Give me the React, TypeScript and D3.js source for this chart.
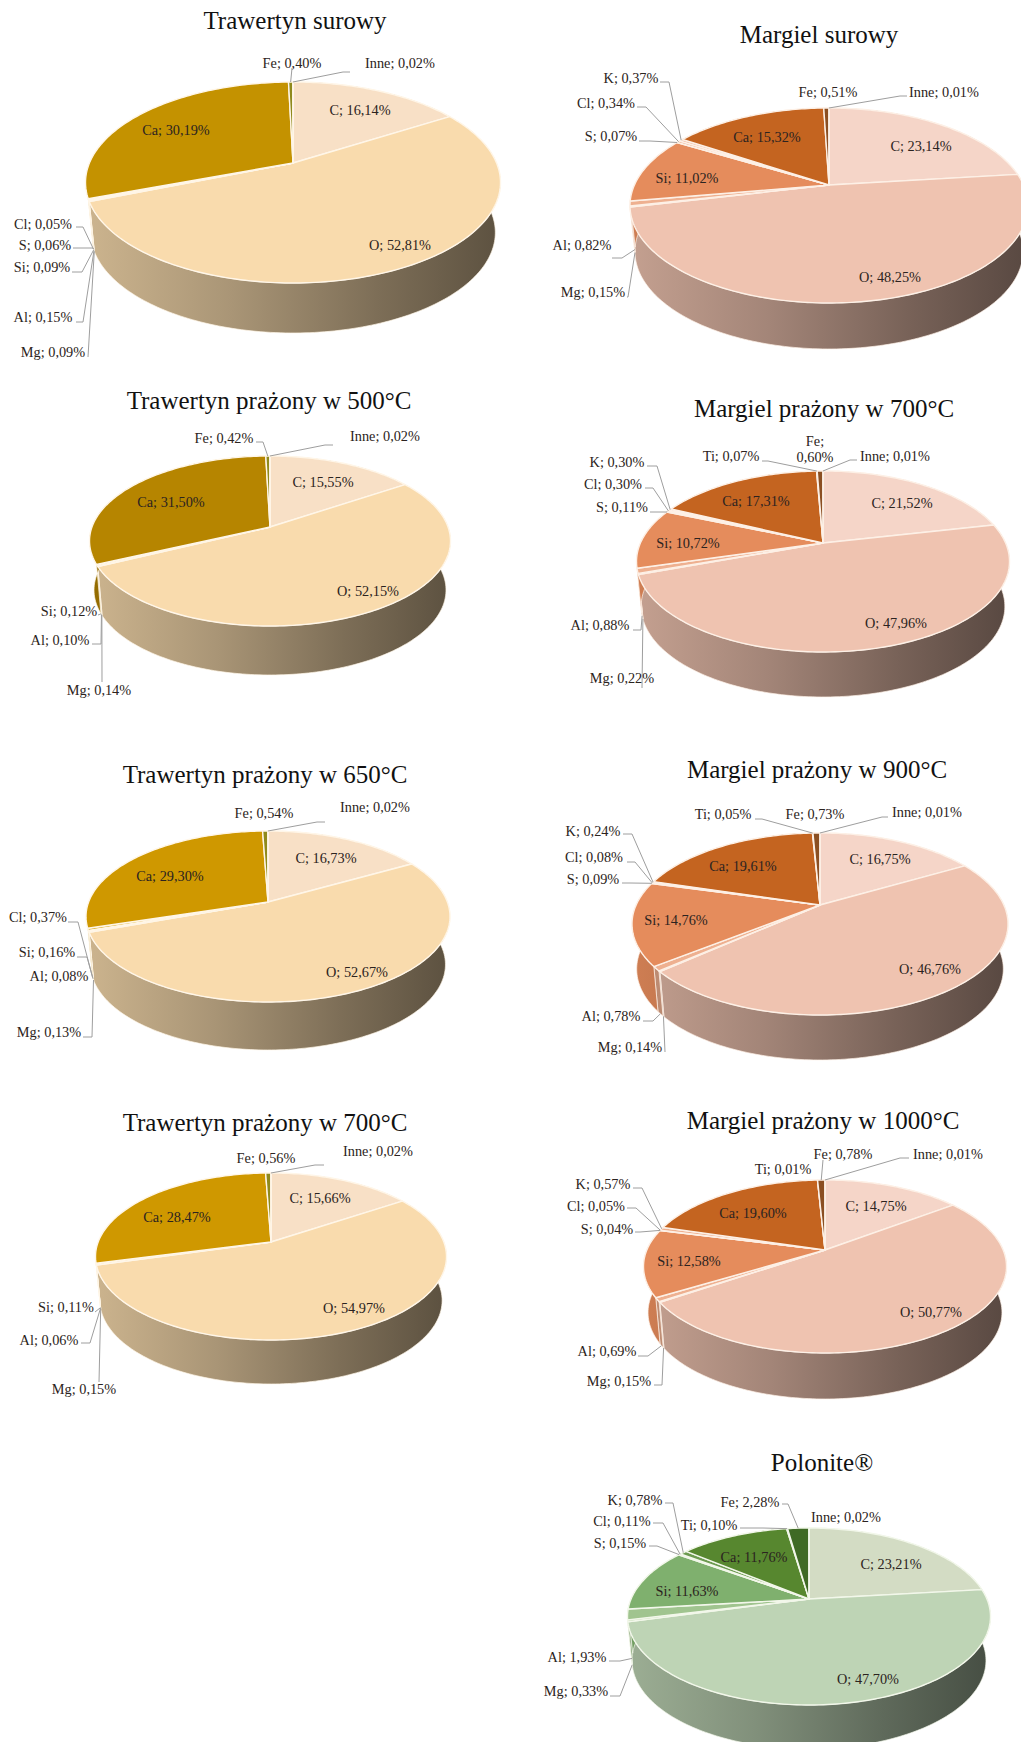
import React from "react";
import * as d3 from "d3";

// Element order around each pie, clockwise from twelve o'clock.
const elementsTrawertyn = ["C", "O", "Mg", "Al", "Si", "S", "Cl", "Ca", "Fe", "Inne"];
const elementsTrawertynShort = ["C", "O", "Mg", "Al", "Si", "Ca", "Fe", "Inne"];
const elementsTrawertyn650 = ["C", "O", "Mg", "Al", "Si", "Cl", "Ca", "Fe", "Inne"];
const elementsMargielNoTi = ["C", "O", "Mg", "Al", "Si", "S", "Cl", "K", "Ca", "Fe", "Inne"];
const elementsFull = ["C", "O", "Mg", "Al", "Si", "S", "Cl", "K", "Ca", "Ti", "Fe", "Inne"];

// Mass shares in percent.
const valuesTrawertynSurowy = [16.14, 52.81, 0.09, 0.15, 0.09, 0.06, 0.05, 30.19, 0.4, 0.02];
const valuesTrawertyn500 = [15.55, 52.15, 0.14, 0.1, 0.12, 31.5, 0.42, 0.02];
const valuesTrawertyn650 = [16.73, 52.67, 0.13, 0.08, 0.16, 0.37, 29.3, 0.54, 0.02];
const valuesTrawertyn700 = [15.66, 54.97, 0.15, 0.06, 0.11, 28.47, 0.56, 0.02];
const valuesMargielSurowy = [23.14, 48.25, 0.15, 0.82, 11.02, 0.07, 0.34, 0.37, 15.32, 0.51, 0.01];
const valuesMargiel700 = [21.52, 47.96, 0.22, 0.88, 10.72, 0.11, 0.3, 0.3, 17.31, 0.07, 0.6, 0.01];
const valuesMargiel900 = [16.75, 46.76, 0.14, 0.78, 14.76, 0.09, 0.08, 0.24, 19.61, 0.05, 0.73, 0.01];
const valuesMargiel1000 = [14.75, 50.77, 0.15, 0.69, 12.58, 0.04, 0.05, 0.57, 19.6, 0.01, 0.78, 0.01];
const valuesPolonite = [23.21, 47.7, 0.33, 1.93, 11.63, 0.15, 0.11, 0.78, 11.76, 0.1, 2.28, 0.02];

// Slice colours by material family.
const paletteTrawertyn: Record<string, string> = {
  C: "#f8e0c6", O: "#f9dbad", Mg: "#e9cf90", Al: "#e6c060", Si: "#b08c10", S: "#d8ab20", Cl: "#d8ab20", Ca: "#c49200", Fe: "#8f8a1c", Inne: "#c49200",
};
const paletteMargiel: Record<string, string> = {
  C: "#f5d5c8", O: "#efc3b0", Mg: "#f2c8b0", Al: "#eeb090", Si: "#e58c5c", S: "#e8a078", Cl: "#eaa880", K: "#eeb090", Ca: "#c46420", Ti: "#d07a40", Fe: "#8b4f22", Inne: "#6b3a18",
};
const palettePolonite: Record<string, string> = {
  C: "#d3dcc4", O: "#bed4b5", Mg: "#c0d6b0", Al: "#a0c48f", Si: "#7fb06e", S: "#9cc088", Cl: "#8db878", K: "#6c9a50", Ca: "#57872f", Ti: "#8db878", Fe: "#3f6a25", Inne: "#2f5018",
};

type Frame = { xL: number; xR: number; ax: number; ay: number; top: number; bottom: number; depth: number };
// Label: centre x, centre y, then optional leader start and elbow.
type Lab = number[];

type Chart = {
  title: string; tx: number; ty: number;
  elements: string[]; values: number[];
  palette: Record<string, string>; ca?: string; gap: string;
  frame: Frame; labels: Lab[]; wrap?: string[]; noWall?: string[];
};

const charts: Chart[] = [
  {
    title: "Trawertyn surowy", tx: 295, ty: 29, elements: elementsTrawertyn, values: valuesTrawertynSurowy,
    palette: paletteTrawertyn, gap: "#fff6e8", noWall: ["Ca"],
    frame: { xL: 87, xR: 502, ax: 293, ay: 163, top: 82, bottom: 283, depth: 50 },
    labels: [[360, 110], [400, 245], [53, 352, 88, 357], [43, 317, 76, 322, 83, 322], [42, 267, 72, 272, 82, 272], [45, 245, 73, 248, 93, 248], [43, 224, 76, 227, 83, 227], [176, 130], [292, 63, 292, 68], [400, 63, 350, 72, 343, 72]],
  },
  {
    title: "Margiel surowy", tx: 819, ty: 43, elements: elementsMargielNoTi, values: valuesMargielSurowy,
    palette: paletteMargiel, gap: "#fdf0e6",
    frame: { xL: 630, xR: 1028, ax: 829, ay: 185, top: 108, bottom: 303, depth: 46 },
    labels: [[921, 146], [890, 277], [593, 292, 627, 297, 628, 297], [582, 245, 612, 258, 622, 258], [687, 178], [611, 136, 639, 141, 650, 141], [606, 103, 637, 107, 646, 107], [631, 78, 660, 82, 669, 82], [767, 137], [828, 92], [944, 92, 907, 96, 900, 96]],
  },
  {
    title: "Trawertyn prażony w 500°C", tx: 269, ty: 409, elements: elementsTrawertynShort, values: valuesTrawertyn500,
    palette: paletteTrawertyn, ca: "#b68500", gap: "#fff6e8",
    frame: { xL: 91, xR: 452, ax: 270, ay: 527, top: 456, bottom: 626, depth: 49 },
    labels: [[323, 482], [368, 591], [99, 690, 102, 682], [60, 640, 92, 644, 101, 644], [69, 611, 98, 615], [171, 502], [224, 438, 256, 442, 263, 442], [385, 436, 333, 445, 325, 445]],
  },
  {
    title: "Margiel prażony w 700°C", tx: 824, ty: 417, elements: elementsFull, values: valuesMargiel700,
    palette: paletteMargiel, gap: "#fdf0e6", wrap: ["Fe"],
    frame: { xL: 637, xR: 1010, ax: 823, ay: 543, top: 471, bottom: 652, depth: 45 },
    labels: [[902, 503], [896, 623], [622, 678, 642, 688], [600, 625, 633, 630, 641, 630], [688, 543], [622, 507, 650, 512, 667, 512], [613, 484, 645, 488, 653, 488], [617, 462, 647, 466, 657, 466], [756, 501], [731, 456, 762, 461, 768, 461], [815, 449], [895, 456, 857, 460, 850, 460]],
  },
  {
    title: "Trawertyn prażony w 650°C", tx: 265, ty: 783, elements: elementsTrawertyn650, values: valuesTrawertyn650,
    palette: paletteTrawertyn, ca: "#cf9800", gap: "#fff6e8", noWall: ["Ca"],
    frame: { xL: 86, xR: 450, ax: 268, ay: 902, top: 831, bottom: 1002, depth: 48 },
    labels: [[326, 858], [357, 972], [49, 1032, 83, 1037, 92, 1037], [59, 976], [47, 952, 77, 957, 87, 957], [38, 917, 68, 922, 78, 922], [170, 876], [264, 813], [375, 807, 325, 822, 317, 822]],
  },
  {
    title: "Margiel prażony w 900°C", tx: 817, ty: 778, elements: elementsFull, values: valuesMargiel900,
    palette: paletteMargiel, gap: "#fdf0e6",
    frame: { xL: 632, xR: 1008, ax: 820, ay: 905, top: 833, bottom: 1015, depth: 45 },
    labels: [[880, 859], [930, 969], [630, 1047, 665, 1052], [611, 1016, 643, 1021, 653, 1021], [676, 920], [593, 879, 622, 883, 630, 883], [594, 857, 627, 862, 635, 862], [593, 831, 623, 834, 632, 834], [743, 866], [723, 814, 755, 819, 762, 819], [815, 814], [927, 812, 888, 817, 882, 817]],
  },
  {
    title: "Trawertyn prażony w 700°C", tx: 265, ty: 1131, elements: elementsTrawertynShort, values: valuesTrawertyn700,
    palette: paletteTrawertyn, ca: "#cf9800", gap: "#fff6e8", noWall: ["Ca"],
    frame: { xL: 94, xR: 445, ax: 271, ay: 1242, top: 1173, bottom: 1340, depth: 44 },
    labels: [[320, 1198], [354, 1308], [84, 1389, 99, 1382], [49, 1340, 81, 1343, 90, 1343], [66, 1307, 95, 1312], [177, 1217], [266, 1158], [378, 1151, 324, 1165, 315, 1165]],
  },
  {
    title: "Margiel prażony w 1000°C", tx: 823, ty: 1129, elements: elementsFull, values: valuesMargiel1000,
    palette: paletteMargiel, gap: "#fdf0e6",
    frame: { xL: 644, xR: 1007, ax: 825, ay: 1250, top: 1180, bottom: 1353, depth: 46 },
    labels: [[876, 1206], [931, 1312], [619, 1381, 654, 1385, 662, 1385], [607, 1351, 638, 1356, 648, 1356], [689, 1261], [607, 1229, 635, 1232, 640, 1232], [596, 1206, 627, 1208, 636, 1208], [603, 1184, 633, 1188, 642, 1188], [753, 1213], [783, 1169], [843, 1154, 823, 1160], [948, 1154, 909, 1158, 900, 1158]],
  },
  {
    title: "Polonite®", tx: 822, ty: 1471, elements: elementsFull, values: valuesPolonite,
    palette: palettePolonite, gap: "#f2f7ea",
    frame: { xL: 628, xR: 991, ax: 809, ay: 1599, top: 1528, bottom: 1705, depth: 44 },
    labels: [[891, 1564], [868, 1679], [576, 1691, 610, 1696, 620, 1696], [577, 1657, 609, 1661, 620, 1661], [687, 1591], [620, 1543, 649, 1546, 657, 1546], [622, 1521, 653, 1523, 663, 1523], [635, 1500, 665, 1503, 673, 1503], [754, 1557], [709, 1525, 740, 1528, 763, 1528], [750, 1502, 782, 1504, 788, 1504], [846, 1517]],
  },
];

const pl = d3.formatLocale({ decimal: ",", thousands: " ", grouping: [3], currency: ["", ""] });
const fmt = pl.format(".2f");
const lineGen = d3.line<[number, number]>();
const FONT = "'Liberation Serif', 'Times New Roman', serif";
const wallShade: [number, number][] = [[0, 0.82], [0.35, 0.68], [0.7, 0.5], [1, 0.37]];
const BOTTOM_SHRINK = 0.975;

// Perspective projection of a disc lying on a tilted plane: angle is measured
// clockwise from the far side of the disc; the near side bulges toward the viewer.
function projector(f: Frame) {
  const a = f.ay - f.top;
  const b = f.bottom - f.ay;
  const p = (b - a) / (b + a);
  const S = b * (1 - p);
  const R = ((f.xR - f.xL) / 2) * Math.sqrt(1 - p * p);
  const top = (t: number): [number, number] => {
    const w = 1 + p * Math.cos(t);
    return [f.ax + (R * Math.sin(t)) / w, f.ay - (S * Math.cos(t)) / w];
  };
  const low = (t: number): [number, number] => {
    const [x, y] = top(t);
    return [f.ax + (x - f.ax) * BOTTOM_SHRINK, y + f.depth];
  };
  return { top, low };
}

function arcSamples(t0: number, t1: number, fn: (t: number) => [number, number]) {
  const n = Math.max(2, Math.ceil((t1 - t0) / 0.02));
  return d3.range(n + 1).map((i) => fn(t0 + ((t1 - t0) * i) / n));
}

function shade(color: string, k: number) {
  const c = d3.rgb(color);
  return d3.rgb(Math.min(255, c.r * k), Math.min(255, c.g * k), Math.min(255, c.b * k)).formatHex();
}

function PieChart({ chart, index }: { chart: Chart; index: number }) {
  const { frame: f, elements, values } = chart;
  const proj = projector(f);
  const arcs = d3.pie<number>().sort(null).value((d) => d)(values);
  const colorOf = (el: string) => (el === "Ca" && chart.ca ? chart.ca : chart.palette[el]);
  // The saturated silicon wall reads a little brighter than the pale slices.
  const wallBoost = (el: string) => (el === "Si" ? 1.1 : 1);

  return (
    <g>
      <defs>
        {elements.map((el, i) => (
          <linearGradient key={el} id={`wall-${index}-${i}`} gradientUnits="userSpaceOnUse" x1={f.xL} x2={f.xR} y1={0} y2={0}>
            {wallShade.map(([o, k]) => (
              <stop key={o} offset={o} stopColor={shade(colorOf(el), k * wallBoost(el))} />
            ))}
          </linearGradient>
        ))}
      </defs>

      {arcs.map((a, i) => {
        if (chart.noWall && chart.noWall.includes(elements[i])) return null;
        const pts = [...arcSamples(a.startAngle, a.endAngle, proj.top), ...arcSamples(a.startAngle, a.endAngle, proj.low).reverse()];
        return <path key={i} d={lineGen(pts) + "Z"} fill={`url(#wall-${index}-${i})`} stroke={chart.gap} strokeWidth={0.7} />;
      })}

      {arcs.map((a, i) => {
        const pts: [number, number][] = [[f.ax, f.ay], ...arcSamples(a.startAngle, a.endAngle, proj.top)];
        return <path key={i} d={lineGen(pts) + "Z"} fill={colorOf(elements[i])} stroke={chart.gap} strokeWidth={1.4} strokeLinejoin="round" />;
      })}

      {chart.labels.map((lab, i) => {
        if (lab.length <= 2) return null;
        const mid = (arcs[i].startAngle + arcs[i].endAngle) / 2;
        const end = Math.cos(mid) < 0 ? proj.low(mid) : proj.top(mid);
        const pts = [];
        for (let k = 2; k < lab.length; k += 2) pts.push([lab[k], lab[k + 1]] as [number, number]);
        pts.push(end);
        return <path key={i} d={lineGen(pts) as string} fill="none" stroke="#9e9e9e" strokeWidth={1} />;
      })}

      {chart.labels.map((lab, i) => {
        const el = elements[i];
        const v = fmt(values[i]) + "%";
        const wrapped = chart.wrap && chart.wrap.includes(el);
        return (
          <text key={i} x={lab[0]} y={lab[1] + 4.8} textAnchor="middle" fontFamily={FONT} fontSize={14.3} fill="#2b2320">
            {wrapped ? (
              <>
                <tspan x={lab[0]} dy={-8}>{el};</tspan>
                <tspan x={lab[0]} dy={16}>{v}</tspan>
              </>
            ) : (
              `${el}; ${v}`
            )}
          </text>
        );
      })}

      <text x={chart.tx} y={chart.ty} textAnchor="middle" fontFamily={FONT} fontSize={25} fill="#111">
        {chart.title}
      </text>
    </g>
  );
}

export default function App() {
  return (
    <svg width={1021} height={1742} viewBox="0 0 1021 1742" style={{ position: "absolute", left: 0, top: 0, background: "#fff" }}>
      <rect width={1021} height={1742} fill="#fff" />
      {charts.map((c, i) => (
        <PieChart key={c.title} chart={c} index={i} />
      ))}
    </svg>
  );
}
